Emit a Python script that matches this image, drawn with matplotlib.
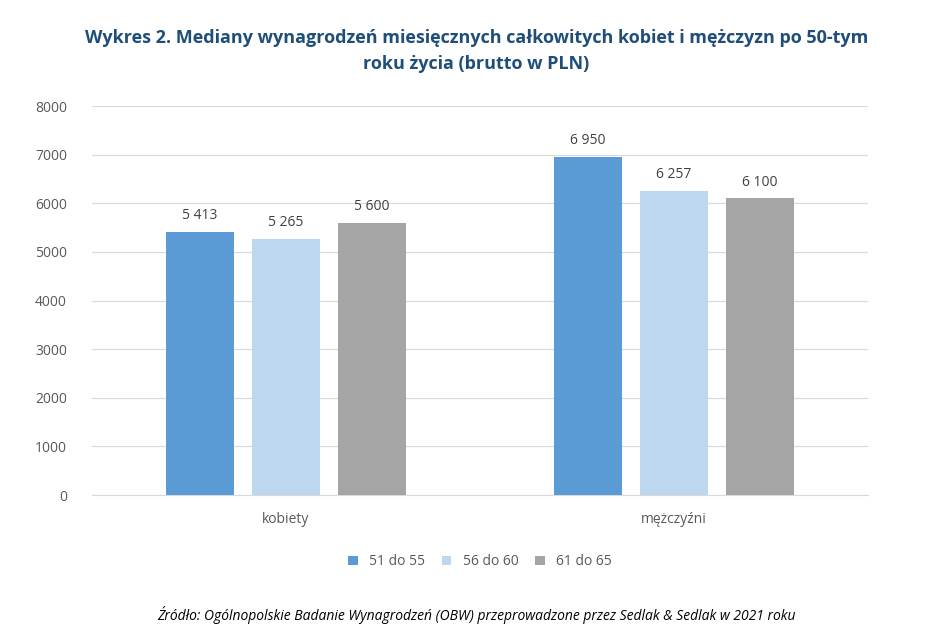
import numpy as np
import matplotlib.pyplot as plt

categories = ["kobiety", "mężczyźni"]
series_names = ["51 do 55", "56 do 60", "61 do 65"]
values = [[5413, 6950], [5265, 6257], [5600, 6100]]
colors = ["#5B9BD5", "#BDD7EE", "#A5A5A5"]

plt.rcParams['font.family'] = ['Open Sans', 'DejaVu Sans']

fig = plt.figure(figsize=(9.53, 6.43), dpi=100)
ax = fig.add_axes([0.0965, 0.230, 0.814, 0.605])

x = np.arange(len(categories))
w = 0.175
step = 0.222
for i, (name, vals, c) in enumerate(zip(series_names, values, colors)):
    pos = x + (i - 1) * step
    ax.bar(pos, vals, width=w, color=c, label=name, zorder=3)
    for p, v in zip(pos, vals):
        ax.text(p, v + 180, f"{v:,}".replace(",", " "), ha="center", va="bottom",
                fontsize=10, color="#404040")

ax.set_xlim(-0.5, 1.5)
ax.set_ylim(0, 8000)
ax.set_yticks(range(0, 8001, 1000))
ax.set_xticks(x)
ax.set_xticklabels(categories)
ax.grid(axis="y", color="#D9D9D9", linewidth=0.8, zorder=0)
for s in ["top", "right", "left"]:
    ax.spines[s].set_visible(False)
ax.spines["bottom"].set_color("#D9D9D9")
ax.tick_params(axis="both", length=0, labelsize=10, colors="#595959", pad=12)
ax.tick_params(axis="y", pad=18)

ax.legend(loc="upper center", bbox_to_anchor=(0.5, -0.12), ncol=3, frameon=False,
          fontsize=10, handlelength=0.7, handleheight=0.7, columnspacing=1.2,
          labelcolor="#595959")

fig.text(0.5, 0.955, "Wykres 2. Mediany wynagrodzeń miesięcznych całkowitych kobiet i mężczyzn po 50-tym\nroku życia (brutto w PLN)",
         ha="center", va="top", fontsize=13, fontweight="bold", color="#1F4E79", linespacing=1.6)
fig.text(0.5, 0.043, "Źródło: Ogólnopolskie Badanie Wynagrodzeń (OBW) przeprowadzone przez Sedlak & Sedlak w 2021 roku",
         ha="center", va="center", fontsize=10, style="italic", color="#000000")

fig.savefig("out.png", dpi=100)
